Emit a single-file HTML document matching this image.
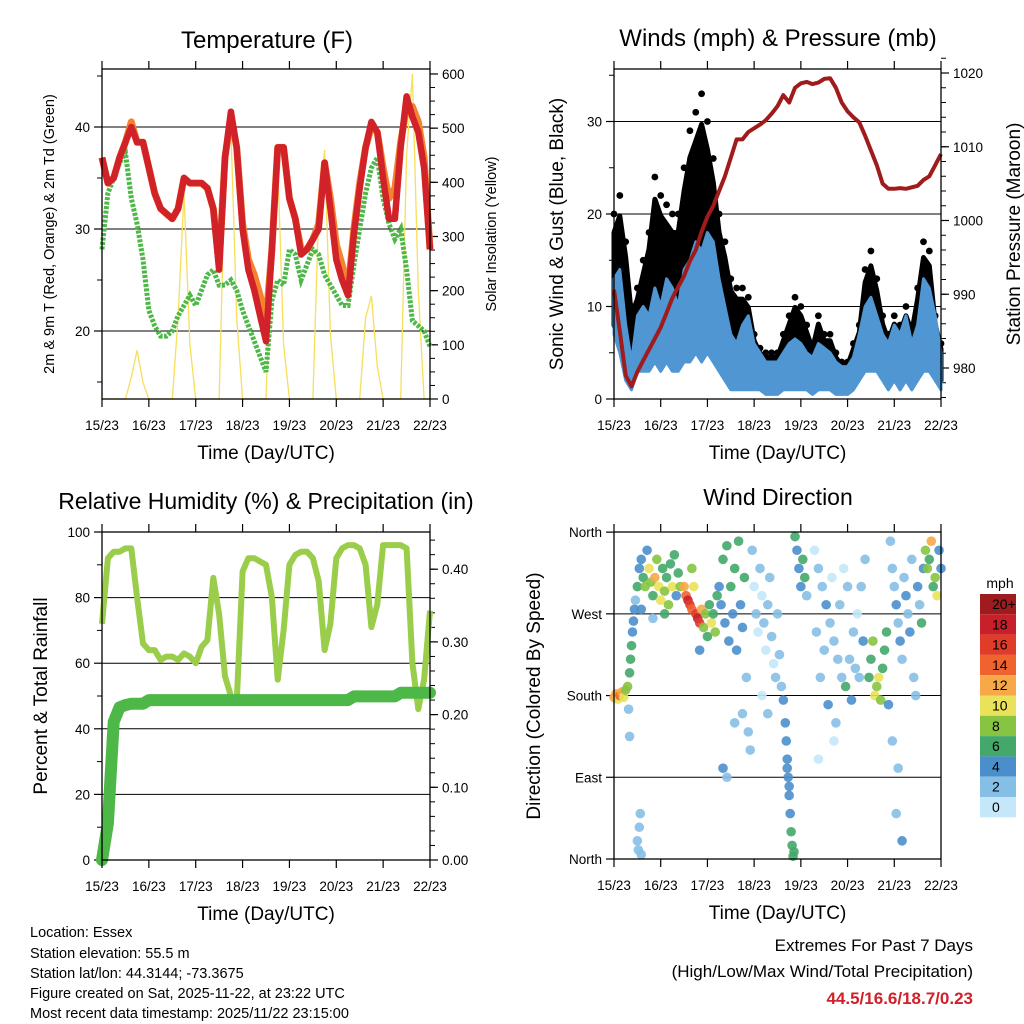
<!DOCTYPE html>
<html><head><meta charset="utf-8">
<style>
html,body{margin:0;padding:0;background:#fff;}
svg{display:block;font-family:"Liberation Sans",sans-serif;}
</style></head>
<body>
<svg id="chart" width="1024" height="1024" viewBox="0 0 1024 1024" xmlns="http://www.w3.org/2000/svg">
<rect width="1024" height="1024" fill="#fff"/>
<g id="g1"></g>
<g id="g2"></g>
<g id="g3"></g>
<g id="g4"></g>
<g id="gt">
<text x="30" y="937" font-size="14.5">Location: Essex</text>
<text x="30" y="958" font-size="14.5">Station elevation: 55.5 m</text>
<text x="30" y="978" font-size="14.5">Station lat/lon: 44.3144; -73.3675</text>
<text x="30" y="998" font-size="14.5">Figure created on Sat, 2025-11-22, at 23:22 UTC</text>
<text x="30" y="1018" font-size="14.5">Most recent data timestamp: 2025/11/22 23:15:00</text>
<text x="973" y="951" font-size="17" text-anchor="end">Extremes For Past 7 Days</text>
<text x="973" y="977" font-size="17" text-anchor="end">(High/Low/Max Wind/Total Precipitation)</text>
<text x="973" y="1004" font-size="17" font-weight="bold" fill="#d0202a" text-anchor="end">44.5/16.6/18.7/0.23</text>
</g>
</svg>
<script>
// ---------- data (3-hourly from 15/23 UTC) ----------
const dayLabels = ["15/23","16/23","17/23","18/23","19/23","20/23","21/23","22/23"];
const temp2m = [37,34.5,35,37,38.5,40,38.5,38.5,36,33.5,32,31.5,31,32,35,34.5,34.5,34.5,34,32,26,37,41.5,38,30,26,24,21.5,19,28,38,38,33,31,27.5,28,29,30,36.5,32,27,25,23.5,29.5,34,38,40.5,39.5,35,31,31,38,43,41,39.5,36,28];
const temp9m = [37,34.5,35,37,38.5,40.5,38.5,38.5,36,33.5,32,31.5,31,32,35,34.5,34.5,34.5,34,32,26.5,37,41,38,30.5,27,25.5,23.5,21,28,38,38,33,31,28,28,29,30.5,36.5,33,28.5,26.5,24,30,34.5,38,40,39.5,36,33,34,38.5,42,42,40.5,37,28];
const dewpt = [28,33.5,35,36.5,37.5,33,30.5,27,22,20.5,19.5,19.5,20,21.5,22.5,23.5,22.5,24,25.5,26,24.5,24.5,25,24,22,20.5,19,17.5,16,23,25,24.5,28,27.5,25,26.5,28,27.5,25.5,24.5,23.5,22.5,22.5,26.5,30,33.5,36,37,33,30.5,29,30,26,21,20.5,20,18.5];
const solar = [0,0,0,0,0,40,90,30,0,0,0,0,0,150,380,100,0,0,0,0,0,420,500,150,0,0,0,0,0,300,440,100,0,0,0,0,0,350,460,120,0,0,0,0,0,150,190,60,0,0,0,0,450,600,200,0,0];
const windHi = [13,14,8,4,9,10,9,12,10,13,12,10,14,15,17,16,18,17,13,10,7,6,8,9,6,5,4,4,4,5,6,6.5,6,5,4.5,6,5.5,5,4,3.5,3.5,4.5,7,10,11,9,7,6,8,7,9,6,8,13,12,9,5];
const windLo = [7,5,2,1,3,3,3,4,3,4,3,3,4,4,5,4,5,4,3,2,1,1,1,1,1,1,0.5,0.5,0.5,1,1,1,1,1,0.5,1,1,1,0.5,0.5,0.5,1,2,3,3,3,2,1,2,1,2,1,2,3,3,2,1];
const gust = [20,22,17,10,12,15,18,24,22,21,20,20,25,29,31,33,30,26,20,17,13,12,12,11,7,5.5,5,5,5,7,9,11,10,8,6,9,7,7,5,4,4,6,8,14,16,13,9,7,9,8,10,8,12,17,16,9,6];
const pressure = [990.6,985,979,977.5,979.5,981,982.5,984,985.5,987.5,989.5,991,992.5,994.5,996,998.5,1000.5,1002,1004,1006,1008.5,1011,1011,1012,1012.5,1013,1013.6,1014.5,1015.5,1017,1016,1018,1018.6,1018.8,1018.5,1018.7,1019.2,1019.3,1018,1016,1014.8,1014,1013.3,1011.5,1009.5,1007.5,1005,1004.3,1004.3,1004.4,1004.3,1004.5,1004.7,1005.5,1006,1007.5,1009];
const rh = [72,92,94,94,95,95,80,66,64,64,61,62,62,61,63,62,60,65,67,86,75,56,50,48,88,92,92,91,90,80,55,70,90,93,94,94,92,85,64,72,92,95,96,96,95,90,71,78,96,96,96,96,95,60,46,55,76];
const precip = [0,0.05,0.19,0.21,0.213,0.215,0.215,0.215,0.22,0.22,0.22,0.22,0.22,0.22,0.22,0.22,0.22,0.22,0.22,0.22,0.22,0.22,0.22,0.22,0.22,0.22,0.22,0.22,0.22,0.22,0.22,0.22,0.22,0.22,0.22,0.22,0.22,0.22,0.22,0.22,0.22,0.22,0.22,0.225,0.225,0.225,0.225,0.225,0.225,0.225,0.225,0.23,0.23,0.23,0.23,0.23,0.23];
// wind direction scatter: hours since start, degrees, speed mph
const dirHour = [0,1,2,3,4,5,6,7,8,8.5,9,9.5,10,10.5,11,7.5,8,12,13,12.5,13.5,14,12,13,14,15,16,17,18,19,20,21,22,23,24,25,26,27,28,29,30,31,32,33,34,14,20,26,36,37,38,39,40,41,42,43,44,45,46,47,48,49,50,51,52,53,44,40,54,55,56,57,58,59,60,61,62,63,64,65,66,67,68,69,70,66,62,56,58,71,72,73,74,75,76,77,78,79,80,81,82,83,84,85,86,76,79,87,88,88.5,89,89.5,90,90.5,91,91.5,92,92.5,90,89,93,94,95,96,97,98,99,103,105,107,109,111,113,115,117,119,121,123,125,127,129,104,108,112,116,120,124,128,106,110,114,118,122,126,113,105,131,132,133,134,135,136,137,138,139,140,141,142,143,144,145,146,147,148,149,150,151,152,153,154,155,156,157,158,159,143,146,145,148,160,161,162,163,164,165,166,167,168];
const dirDeg = [178,182,176,180,184,178,186,190,205,220,235,250,262,275,285,165,135,20,35,10,50,5,300,320,330,310,300,340,320,305,290,310,330,300,285,320,295,310,280,325,300,335,290,315,300,275,265,270,300,290,285,280,275,300,270,265,260,275,255,270,245,280,260,270,250,290,230,320,300,280,330,260,345,240,300,270,320,230,350,280,255,310,200,140,120,160,150,100,90,340,300,270,250,320,290,260,230,280,310,245,215,200,270,225,190,180,160,175,150,130,110,90,70,50,30,15,3,8,80,100,355,340,320,300,330,310,290,340,320,300,280,260,240,220,200,190,220,250,270,300,330,250,230,310,280,300,210,240,200,170,150,320,175,200,130,110,200,220,240,180,190,200,175,210,230,250,170,350,320,300,280,260,240,220,310,290,270,250,330,200,180,300,280,260,320,130,100,50,20,340,320,330,350,300,310,290,340,320];
const dirSpeed = [12,13,11,14,12,10,9,8,7,6,7,5,4,4,3,3,3,3,3,2,3,3,6,4,5,7,8,4,10,9,6,12,8,11,10,7,9,6,8,7,10,6,5,7,9,5,3,6,12,15,18,17,14,10,16,19,17,12,9,8,6,7,10,6,8,7,4,8,5,4,6,4,7,4,6,5,7,4,6,4,5,7,3,2,3,3,2,4,2,2,1,2,1,2,1,2,1,2,3,2,1,2,2,3,3,1,2,4,4,4,4,4,4,5,6,6,6,7,4,4,6,4,4,5,7,6,3,1,2,3,4,2,3,2,3,7,3,2,1,2,2,3,2,1,2,3,2,4,3,5,2,1,4,3,1,1,6,7,8,10,9,11,8,7,6,7,5,3,2,3,4,3,4,3,2,4,3,4,2,3,2,4,3,6,5,3,2,3,4,8,9,7,12,6,8,10,5,4];
const speedBins = ["20+","18","16","14","12","10","8","6","4","2","0"];
const binColors = ["#9e1b1e","#c8202a","#e03c2a","#f0632e","#f7a848","#e9e25a","#86c441","#44a86a","#4a8fcc","#86bfe6","#c4e8fa"];

// ---------- helpers ----------
const NS="http://www.w3.org/2000/svg";
function mk(parent,tag,attrs){const e=document.createElementNS(NS,tag);for(const k in attrs)e.setAttribute(k,attrs[k]);parent.appendChild(e);return e;}
function txt(parent,x,y,s,size,anchor,rot){const e=mk(parent,'text',{x:x,y:y,'font-size':size,'text-anchor':anchor||'middle'});if(rot)e.setAttribute('transform','rotate(-90 '+x+' '+y+')');e.textContent=s;return e;}
function pathFrom(xs,ys){let d='';for(let i=0;i<xs.length;i++)d+=(i?'L':'M')+xs[i].toFixed(1)+' '+ys[i].toFixed(1);return d;}
const N=temp2m.length-1;

function frame(g,x0,x1,y0,y1){
  mk(g,'rect',{x:x0,y:y0,width:x1-x0,height:y1-y0,fill:'none',stroke:'#000','stroke-width':1.3});
  const dw=(x1-x0)/7;
  for(let d=0;d<=7;d++){const x=x0+d*dw;
    const t1=mk(g,'line',{x1:x,x2:x,y1:y1,y2:y1+8,stroke:'#000','stroke-width':1.2});
    
    mk(g,'line',{x1:x,x2:x,y1:y0,y2:y0-8,stroke:'#000','stroke-width':1.2});
    const l=txt(g,x,y1+31,dayLabels[d],13.5);
    }
  const xt=txt(g,(x0+x1)/2,y1+60,'Time (Day/UTC)',19);
  
}
function leftAxis(g,x0,x1,vals,labels,yf,minor,grid){
  vals.forEach((v,i)=>{const y=yf(v);
    mk(g,'line',{x1:x0-8,x2:x0,y1:y,y2:y,stroke:'#000','stroke-width':1.2});
    if(grid&&grid(v)){const gl=mk(g,'line',{x1:x0,x2:x1,y1:y,y2:y,stroke:'#000','stroke-width':1});}
    const l=txt(g,x0-12,y+5,labels[i],13.5,'end');});
  (minor||[]).forEach(v=>{const y=yf(v);mk(g,'line',{x1:x0-5,x2:x0,y1:y,y2:y,stroke:'#000','stroke-width':1});});
}
function rightAxis(g,x1,vals,labels,yf,minor){
  vals.forEach((v,i)=>{const y=yf(v);
    mk(g,'line',{x1:x1,x2:x1+8,y1:y,y2:y,stroke:'#000','stroke-width':1.2});
    const l=txt(g,x1+12,y+5,labels[i],13.5,'start');});
  (minor||[]).forEach(v=>{const y=yf(v);mk(g,'line',{x1:x1,x2:x1+5,y1:y,y2:y,stroke:'#000','stroke-width':1});});
}

// ---------- Panel 1: temperature ----------
(function(){
const g=document.getElementById('g1');
const x0=102,x1=430,y0=69,y1=399;
const X=i=>x0+i*(x1-x0)/N;
const yT=v=>127+(40-v)*10.2;
const yS=v=>399-v*0.5417;
const xs=temp2m.map((v,i)=>X(i));
leftAxis(g,x0,x1,[20,30,40],['20','30','40'],yT,[15,25,35,45],v=>true);
const rm=[];for(let v=25;v<=600;v+=25)rm.push(v);
rightAxis(g,x1,[0,100,200,300,400,500,600],['0','100','200','300','400','500','600'],yS,rm);
let p=mk(g,'path',{d:pathFrom(xs,solar.map(yS)),fill:'none',stroke:'#f6df5a','stroke-width':1.3});

p=mk(g,'path',{d:pathFrom(xs,dewpt.map(yT)),fill:'none',stroke:'#4db848','stroke-width':5,'stroke-dasharray':'3 1.5'});

p=mk(g,'path',{d:pathFrom(xs,temp9m.map(yT)),fill:'none',stroke:'#f58231','stroke-width':7,'stroke-linejoin':'round'});

p=mk(g,'path',{d:pathFrom(xs,temp2m.map(yT)),fill:'none',stroke:'#d02228','stroke-width':6.5,'stroke-linejoin':'round'});

frame(g,x0,x1,y0,y1);
let t=txt(g,267,48,'Temperature (F)',24);
t=txt(g,54,234,'2m & 9m T (Red, Orange) & 2m Td (Green)',14.5,'middle',true);
t=txt(g,496,234,'Solar Insolation (Yellow)',14.5,'middle',true);
})();

// ---------- Panel 2: winds & pressure ----------
(function(){
const g=document.getElementById('g2');
const x0=614,x1=941,y0=69,y1=399;
const X=i=>x0+i*(x1-x0)/N;
const yW=v=>399-v*9.25;
const yP=v=>73+(1020-v)*7.375;
const xs=gust.map((v,i)=>X(i));
leftAxis(g,x0,x1,[0,10,20,30],['0','10','20','30'],yW,[5,15,25,35],v=>v>0);
const pm=[];for(let v=976;v<=1022;v+=2)pm.push(v);
rightAxis(g,x1,[980,990,1000,1010,1020],['980','990','1000','1010','1020'],yP,pm);
// gust band
let d=pathFrom(xs,gust.map(v=>yW(v*0.9)));
for(let i=N;i>=0;i--)d+='L'+X(i).toFixed(1)+' '+yW(windLo[i]+1).toFixed(1);
let p=mk(g,'path',{d:d+'Z',fill:'#000',stroke:'#000','stroke-width':5,'stroke-linejoin':'round'});

gust.forEach((v,i)=>{const c=mk(g,'circle',{cx:X(i),cy:yW(v),r:3.4,fill:'#000'});

});
d=pathFrom(xs,windHi.map(yW));
for(let i=N;i>=0;i--)d+='L'+X(i).toFixed(1)+' '+yW(windLo[i]).toFixed(1);
p=mk(g,'path',{d:d+'Z',fill:'#4f96d3',stroke:'#4f96d3','stroke-width':3,'stroke-linejoin':'round'});

p=mk(g,'path',{d:pathFrom(xs,pressure.map(yP)),fill:'none',stroke:'#a01c1c','stroke-width':4,'stroke-linejoin':'round'});

frame(g,x0,x1,y0,y1);
let t=txt(g,778,46,'Winds (mph) & Pressure (mb)',24);
t=txt(g,563,234,'Sonic Wind & Gust (Blue, Black)',19,'middle',true);
t=txt(g,1020,234,'Station Pressure (Maroon)',19,'middle',true);
})();

// ---------- Panel 3: RH & precip ----------
(function(){
const g=document.getElementById('g3');
const x0=102,x1=430,y0=532,y1=860;
const X=i=>x0+i*(x1-x0)/N;
const yR=v=>860-v*3.28;
const yPr=v=>860-v*727;
const xs=rh.map((v,i)=>X(i));
leftAxis(g,x0,x1,[0,20,40,60,80,100],['0','20','40','60','80','100'],yR,[10,30,50,70,90],v=>v>0&&v<100);
const pm=[];for(let v=0.02;v<=0.45;v+=0.02)pm.push(v);
rightAxis(g,x1,[0,0.1,0.2,0.3,0.4],['0.00','0.10','0.20','0.30','0.40'],yPr,pm);
let p=mk(g,'path',{d:pathFrom(xs,rh.map(yR)),fill:'none',stroke:'#9acd4a','stroke-width':6,'stroke-linejoin':'round'});

p=mk(g,'path',{d:pathFrom(xs,precip.map(yPr)),fill:'none',stroke:'#4db848','stroke-width':12,'stroke-linejoin':'round','stroke-linecap':'round'});

frame(g,x0,x1,y0,y1);
let t=txt(g,266,509,'Relative Humidity (%) & Precipitation (in)',23);
t=txt(g,47,696,'Percent & Total Rainfall',19,'middle',true);
})();

// ---------- Panel 4: wind direction ----------
(function(){
const g=document.getElementById('g4');
const x0=614,x1=941,y0=532,y1=859;
const X=h=>x0+h*(x1-x0)/168;
const yD=v=>859-v*0.908;
leftAxis(g,x0,x1,[0,90,180,270,360],['North','East','South','West','North'],yD,[],v=>v>0&&v<360);
dirHour.forEach((h,i)=>{const s=dirSpeed[i];let b=Math.floor(s/2);if(b>10)b=10;
 const c=mk(g,'circle',{cx:X(h),cy:yD(dirDeg[i]),r:4.8,fill:binColors[10-b],'fill-opacity':0.9});
 
 });
frame(g,x0,x1,y0,y1);
let t=txt(g,778,505,'Wind Direction',23);
t=txt(g,540,696,'Direction (Colored By Speed)',19,'middle',true);
// colorbar
const cb=mk(g,'g',{});
t=txt(cb,1000,588,'mph',14);
speedBins.forEach((lab,i)=>{const y=594+i*20.3;
 const r=mk(cb,'rect',{x:980,y:y,width:36,height:20.3,fill:binColors[i]});
 
 
 const l=txt(cb,992,y+15,lab,14,'start');
 
 });
})();
</script>
</body></html>
